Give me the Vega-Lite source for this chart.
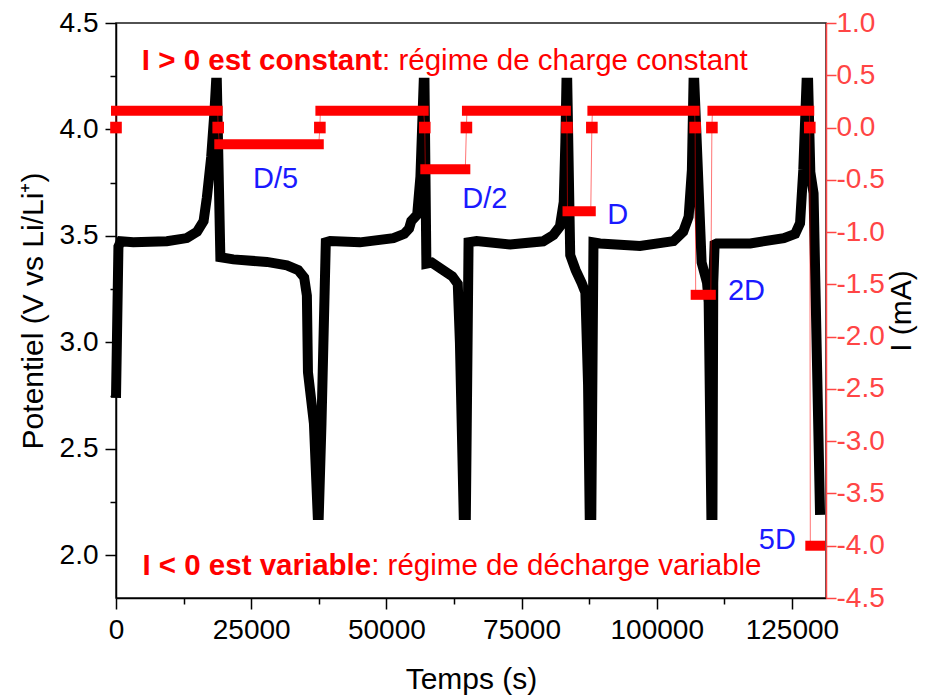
{
  "$schema": "https://vega.github.io/schema/vega-lite/v6.json",
  "width": 710,
  "height": 575,
  "autosize": "none",
  "padding": {"left": 116, "top": 23, "right": 108, "bottom": 97},
  "config": {
    "view": {"stroke": "#1a1a1a", "strokeWidth": 1.5},
    "font": "Liberation Sans",
    "axis": {
      "labelFont": "Liberation Sans",
      "titleFont": "Liberation Sans",
      "labelFontSize": 28,
      "titleFontSize": 30,
      "titleFontWeight": "normal",
      "labelColor": "#000000",
      "titleColor": "#000000",
      "domainColor": "#000000",
      "tickColor": "#000000",
      "domainWidth": 1.5,
      "tickWidth": 1.5,
      "grid": false,
      "labelOverlap": false,
      "labelFlush": false,
      "labelPadding": 7
    }
  },
  "datasets": {
    "potentiel": [
      {"t": 0, "V": 2.74}, {"t": 450, "V": 3.45}, {"t": 900, "V": 3.475}, {"t": 3200, "V": 3.47},
      {"t": 9400, "V": 3.475}, {"t": 13100, "V": 3.49}, {"t": 15000, "V": 3.52}, {"t": 16200, "V": 3.57},
      {"t": 16800, "V": 3.68}, {"t": 17600, "V": 3.87}, {"t": 18200, "V": 4.08}, {"t": 18500, "V": 4.22},
      {"t": 18650, "V": 4.22},
      {"t": 19300, "V": 3.4}, {"t": 21700, "V": 3.39}, {"t": 27900, "V": 3.378}, {"t": 31600, "V": 3.362},
      {"t": 33700, "V": 3.34}, {"t": 34800, "V": 3.305}, {"t": 35300, "V": 3.22}, {"t": 35500, "V": 2.86},
      {"t": 36600, "V": 2.62}, {"t": 37300, "V": 2.19},
      {"t": 37500, "V": 2.19}, {"t": 38000, "V": 2.62}, {"t": 38800, "V": 3.47}, {"t": 39600, "V": 3.476},
      {"t": 45100, "V": 3.47}, {"t": 51300, "V": 3.49}, {"t": 53300, "V": 3.51}, {"t": 54200, "V": 3.535},
      {"t": 54600, "V": 3.57}, {"t": 55700, "V": 3.6}, {"t": 56300, "V": 3.78}, {"t": 56900, "V": 4.22},
      {"t": 57050, "V": 4.22},
      {"t": 57400, "V": 3.37}, {"t": 58400, "V": 3.375}, {"t": 62200, "V": 3.31}, {"t": 63200, "V": 3.275},
      {"t": 63600, "V": 3.0}, {"t": 64300, "V": 2.19},
      {"t": 64700, "V": 2.19}, {"t": 65200, "V": 3.47}, {"t": 66700, "V": 3.476}, {"t": 72900, "V": 3.46},
      {"t": 79000, "V": 3.475}, {"t": 80900, "V": 3.505}, {"t": 82100, "V": 3.545}, {"t": 82800, "V": 3.66},
      {"t": 83100, "V": 3.94}, {"t": 83300, "V": 4.22}, {"t": 83450, "V": 4.22},
      {"t": 84000, "V": 3.41}, {"t": 85000, "V": 3.34}, {"t": 86100, "V": 3.28}, {"t": 86800, "V": 3.235},
      {"t": 87300, "V": 2.8}, {"t": 87600, "V": 2.19},
      {"t": 87900, "V": 2.19}, {"t": 88300, "V": 3.47}, {"t": 89500, "V": 3.465}, {"t": 96900, "V": 3.453},
      {"t": 103100, "V": 3.476}, {"t": 104900, "V": 3.52}, {"t": 105900, "V": 3.59}, {"t": 106500, "V": 3.81},
      {"t": 106800, "V": 4.22}, {"t": 106950, "V": 4.22},
      {"t": 108300, "V": 3.375}, {"t": 109300, "V": 3.28}, {"t": 109600, "V": 3.19}, {"t": 110100, "V": 2.19},
      {"t": 110300, "V": 2.19}, {"t": 110450, "V": 3.28}, {"t": 110700, "V": 3.46}, {"t": 111100, "V": 3.465},
      {"t": 117300, "V": 3.465}, {"t": 123500, "V": 3.49}, {"t": 125600, "V": 3.51}, {"t": 126500, "V": 3.56},
      {"t": 127100, "V": 3.81}, {"t": 127700, "V": 4.22}, {"t": 128000, "V": 4.22},
      {"t": 128400, "V": 3.8}, {"t": 129000, "V": 3.7}, {"t": 130200, "V": 2.19}
    ],
    "courant": [
      {"n": 1, "phase": "repos", "t0": 0, "t1": 0, "I": 0},
      {"n": 2, "phase": "charge", "t0": 0, "t1": 18800, "I": 0.16},
      {"n": 3, "phase": "repos", "t0": 18900, "t1": 18900, "I": 0},
      {"n": 4, "phase": "décharge", "t0": 19100, "t1": 37500, "I": -0.16},
      {"n": 5, "phase": "repos", "t0": 37700, "t1": 37700, "I": 0},
      {"n": 6, "phase": "charge", "t0": 37800, "t1": 56900, "I": 0.16},
      {"n": 7, "phase": "repos", "t0": 57100, "t1": 57100, "I": 0},
      {"n": 8, "phase": "décharge", "t0": 57200, "t1": 64600, "I": -0.4},
      {"n": 9, "phase": "repos", "t0": 64800, "t1": 64800, "I": 0},
      {"n": 10, "phase": "charge", "t0": 64900, "t1": 83200, "I": 0.16},
      {"n": 11, "phase": "repos", "t0": 83400, "t1": 83400, "I": 0},
      {"n": 12, "phase": "décharge", "t0": 83500, "t1": 87800, "I": -0.8},
      {"n": 13, "phase": "repos", "t0": 88000, "t1": 88000, "I": 0},
      {"n": 14, "phase": "charge", "t0": 88100, "t1": 107000, "I": 0.16},
      {"n": 15, "phase": "repos", "t0": 107100, "t1": 107100, "I": 0},
      {"n": 16, "phase": "décharge", "t0": 107200, "t1": 110000, "I": -1.6},
      {"n": 17, "phase": "repos", "t0": 110200, "t1": 110200, "I": 0},
      {"n": 18, "phase": "charge", "t0": 110300, "t1": 128200, "I": 0.16},
      {"n": 19, "phase": "repos", "t0": 128300, "t1": 128300, "I": 0},
      {"n": 20, "phase": "décharge", "t0": 128400, "t1": 130200, "I": -4.0}
    ],
    "etiquettes": [
      {"t": 29500, "I": -0.576, "texte": "D/5"},
      {"t": 68200, "I": -0.77, "texte": "D/2"},
      {"t": 92800, "I": -0.92, "texte": "D"},
      {"t": 116600, "I": -1.654, "texte": "2D"},
      {"t": 122300, "I": -4.03, "texte": "5D"}
    ],
    "notes": [
      {"t": 49200, "V": 4.281, "gras": "I > 0 est constant", "suite": ": régime de charge constant"},
      {"t": 47200, "V": 1.906, "gras": "I < 0 est variable", "suite": ": régime de décharge variable"}
    ]
  },
  "layer": [
    {
      "layer": [
        {
          "data": {"name": "potentiel"},
          "mark": {"type": "line", "color": "#000000", "strokeWidth": 10},
          "encoding": {
            "x": {
              "field": "t", "type": "quantitative",
              "scale": {"domain": [0, 131300], "nice": false, "zero": false},
              "axis": {
                "title": "Temps (s)",
                "values": [0, 12500, 25000, 37500, 50000, 62500, 75000, 87500, 100000, 112500, 125000],
                "labelExpr": "datum.value % 25000 === 0 ? format(datum.value, 'd') : ''",
                "tickSize": {"condition": {"test": "datum.value % 25000 !== 0", "value": 6}, "value": 11},
                "titlePadding": 20
              }
            },
            "y": {
              "field": "V", "type": "quantitative",
              "scale": {"domain": [1.8, 4.5], "nice": false, "zero": false},
              "axis": {
                "orient": "left",
                "title": "Potentiel (V vs Li/Li⁺)",
                "values": [2, 2.25, 2.5, 2.75, 3, 3.25, 3.5, 3.75, 4, 4.25, 4.5],
                "labelExpr": "abs(datum.value * 2 - round(datum.value * 2)) < 0.01 ? format(datum.value, '.1f') : ''",
                "tickSize": {"condition": {"test": "abs(datum.value * 2 - round(datum.value * 2)) > 0.01", "value": 6}, "value": 11},
                "titlePadding": 11
              }
            }
          }
        },
        {
          "data": {"name": "notes"},
          "mark": {"type": "text", "align": "right", "baseline": "alphabetic", "fontSize": 29.5, "fontWeight": "bold", "color": "#ff0000", "font": "Liberation Sans"},
          "encoding": {
            "x": {"field": "t", "type": "quantitative"},
            "y": {"field": "V", "type": "quantitative"},
            "text": {"field": "gras"}
          }
        },
        {
          "data": {"name": "notes"},
          "mark": {"type": "text", "align": "left", "baseline": "alphabetic", "fontSize": 29.5, "color": "#ff0000", "font": "Liberation Sans"},
          "encoding": {
            "x": {"field": "t", "type": "quantitative"},
            "y": {"field": "V", "type": "quantitative"},
            "text": {"field": "suite"}
          }
        }
      ]
    },
    {
      "layer": [
        {
          "data": {"name": "courant"},
          "transform": [{"fold": ["t0", "t1"], "as": ["bord", "t"]}],
          "mark": {"type": "line", "color": "#ff0000", "strokeWidth": 1, "opacity": 0.55},
          "encoding": {
            "x": {"field": "t", "type": "quantitative"},
            "y": {
              "field": "I", "type": "quantitative",
              "scale": {"domain": [-4.5, 1.0], "nice": false, "zero": false},
              "axis": {
                "orient": "right",
                "title": "I (mA)",
                "values": [-4.5, -4.25, -4, -3.75, -3.5, -3.25, -3, -2.75, -2.5, -2.25, -2, -1.75, -1.5, -1.25, -1, -0.75, -0.5, -0.25, 0, 0.25, 0.5, 0.75, 1],
                "labelExpr": "abs(datum.value * 2 - round(datum.value * 2)) < 0.01 ? replace(format(datum.value, '.1f'), '\u2212', '-') : ''",
                "tickSize": {"condition": {"test": "abs(datum.value * 2 - round(datum.value * 2)) > 0.01", "value": 6}, "value": 10},
                "labelColor": "#ff4545",
                "tickColor": "#ff4545",
                "domainColor": "#ff4545",
                "labelPadding": 0,
                "titleAngle": 270,
                "titleBaseline": "top",
                "titlePadding": 2
              }
            },
            "order": [{"field": "n", "type": "quantitative"}, {"field": "bord", "type": "nominal"}]
          }
        },
        {
          "data": {"name": "courant"},
          "transform": [{"filter": "datum.phase !== 'repos'"}],
          "mark": {"type": "rule", "color": "#ff0000", "strokeWidth": 10, "strokeCap": "square"},
          "encoding": {
            "x": {"field": "t0", "type": "quantitative"},
            "x2": {"field": "t1"},
            "y": {"field": "I", "type": "quantitative"}
          }
        },
        {
          "data": {"name": "courant"},
          "transform": [{"filter": "datum.phase === 'repos'"}],
          "mark": {"type": "point", "shape": "square", "filled": true, "size": 135, "color": "#ff0000", "opacity": 1},
          "encoding": {
            "x": {"field": "t0", "type": "quantitative"},
            "y": {"field": "I", "type": "quantitative"}
          }
        },
        {
          "data": {"name": "etiquettes"},
          "mark": {"type": "text", "align": "center", "baseline": "alphabetic", "fontSize": 29, "color": "#1a1aff", "font": "Liberation Sans"},
          "encoding": {
            "x": {"field": "t", "type": "quantitative"},
            "y": {"field": "I", "type": "quantitative"},
            "text": {"field": "texte"}
          }
        }
      ]
    }
  ],
  "resolve": {"scale": {"y": "independent"}}
}
